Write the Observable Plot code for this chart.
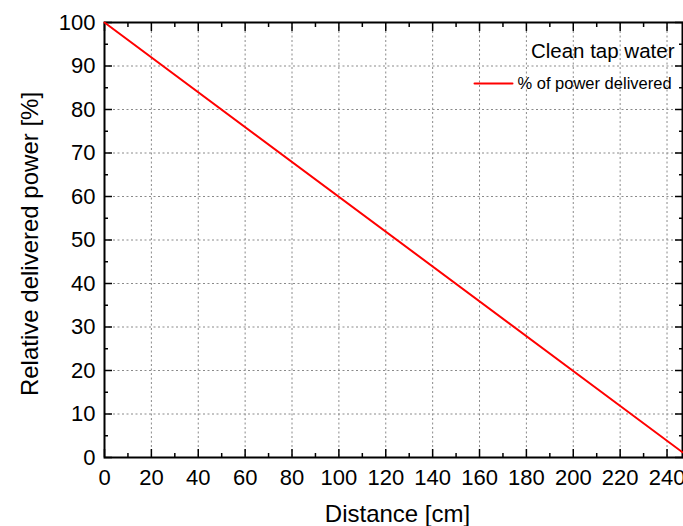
<!DOCTYPE html>
<html><head><meta charset="utf-8">
<script src="https://cdn.jsdelivr.net/npm/d3@7"></script>
<script src="https://cdn.jsdelivr.net/npm/@observablehq/plot@0.6"></script>
<style>body{margin:0;background:#fff}</style>
</head><body><div id="chart"></div>
<script>
const distance = [0, 246.6];
const power = [100, 1.2];
const xMajorTicks = [0, 20, 40, 60, 80, 100, 120, 140, 160, 180, 200, 220, 240];
const xMinorTicks = [10, 30, 50, 70, 90, 110, 130, 150, 170, 190, 210, 230];
const yMajorTicks = [0, 10, 20, 30, 40, 50, 60, 70, 80, 90, 100];
const yMinorTicks = [5, 15, 25, 35, 45, 55, 65, 75, 85, 95];
const xDomain = [0, 246.6];
const yDomain = [0, 100];
const xTitle = "Distance [cm]";
const yTitle = "Relative delivered power [%]";
const legendTitle = "Clean tap water";
const seriesName = "% of power delivered";

const data = distance.map((d, i) => ({distance: d, power: power[i]}));
const lineShape = {draw(ctx, l) { ctx.moveTo(0, 0); ctx.lineTo(0, -l); }};
const FONT = "'Liberation Sans', Arial, sans-serif";

const chart = Plot.plot({
  width: 683,
  height: 526,
  marginLeft: 104,
  marginTop: 22,
  marginRight: 1,
  marginBottom: 69,
  style: {fontFamily: FONT, fontSize: "22px", color: "#000", background: "#fff"},
  x: {domain: xDomain},
  y: {domain: yDomain},
  marks: [
    Plot.gridX(xMajorTicks.filter(v => v > 0), {stroke: "#8a8a8a", strokeOpacity: 1, strokeDasharray: "2,2.5"}),
    Plot.gridY(yMajorTicks.filter(v => v > 0 && v < 100), {stroke: "#8a8a8a", strokeOpacity: 1, strokeDasharray: "2,2.5"}),
    // tick labels
    Plot.axisX(xMajorTicks, {anchor: "bottom", tickSize: 0, tickPadding: 12, label: null, fontSize: 22}),
    Plot.axisY(yMajorTicks, {anchor: "left", tickSize: 0, tickPadding: 9, label: null, fontSize: 22}),
    // inward ticks
    Plot.axisX(xMajorTicks, {anchor: "bottom", tickSize: -8, fill: "none", label: null, strokeWidth: 1.5}),
    Plot.axisX(xMinorTicks, {anchor: "bottom", tickSize: -4, fill: "none", label: null, strokeWidth: 1.5}),
    Plot.axisX(xMajorTicks, {anchor: "top", tickSize: -8, fill: "none", label: null, strokeWidth: 1.5}),
    Plot.axisX(xMinorTicks, {anchor: "top", tickSize: -4, fill: "none", label: null, strokeWidth: 1.5}),
    Plot.axisY(yMajorTicks, {anchor: "left", tickSize: -8, fill: "none", label: null, strokeWidth: 1.5}),
    Plot.axisY(yMinorTicks, {anchor: "left", tickSize: -4, fill: "none", label: null, strokeWidth: 1.5}),
    Plot.axisY(yMajorTicks, {anchor: "right", tickSize: -8, fill: "none", label: null, strokeWidth: 1.5}),
    Plot.axisY(yMinorTicks, {anchor: "right", tickSize: -4, fill: "none", label: null, strokeWidth: 1.5}),
    Plot.frame({stroke: "#000", strokeWidth: 2}),
    Plot.line(data, {x: "distance", y: "power", stroke: "#ff0000", strokeWidth: 2}),
    // axis titles
    Plot.text([xTitle], {text: d => d, frameAnchor: "bottom", dx: 4, dy: 57, textAnchor: "middle", lineAnchor: "middle", fontSize: 24}),
    Plot.text([yTitle], {text: d => d, frameAnchor: "left", dx: -74, dy: 4, rotate: -90, textAnchor: "middle", lineAnchor: "middle", fontSize: 24}),
    // legend
    Plot.text([legendTitle], {text: d => d, frameAnchor: "top-right", dx: -8, dy: 29, textAnchor: "end", lineAnchor: "middle", fontSize: 20.5}),
    Plot.vector([seriesName], {frameAnchor: "top-right", dx: -208, dy: 61, length: 38, rotate: 90, anchor: "start", shape: lineShape, stroke: "#ff0000", strokeWidth: 2}),
    Plot.text([seriesName], {text: d => d, frameAnchor: "top-right", dx: -165, dy: 61, textAnchor: "start", lineAnchor: "middle", fontSize: 16.5})
  ]
});
document.getElementById("chart").append(chart);
</script>
</body></html>
